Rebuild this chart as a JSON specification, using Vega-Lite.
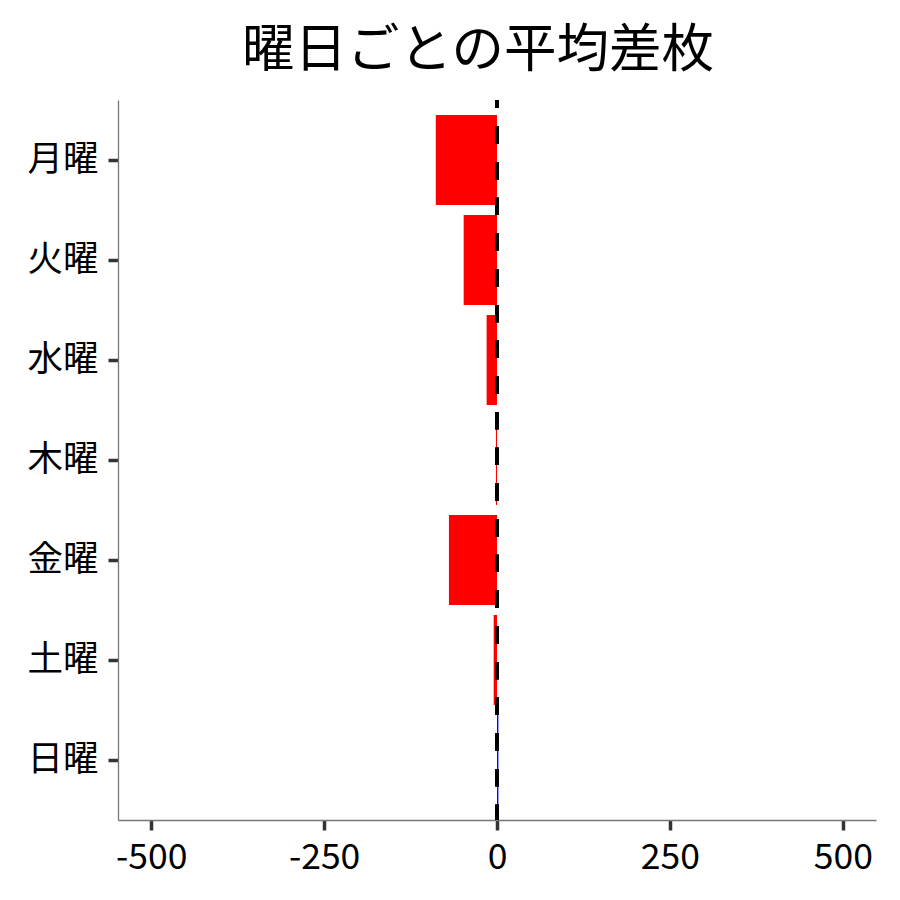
{
  "$schema": "https://vega.github.io/schema/vega-lite/v6.json",
  "autosize": "none",
  "width": 758,
  "height": 720,
  "padding": {"left": 118, "top": 100, "right": 24, "bottom": 80},
  "background": "white",
  "config": {
    "view": {"stroke": null},
    "font": "Noto Sans CJK JP",
    "axis": {
      "grid": false,
      "domainColor": "#777777",
      "domainWidth": 1.3,
      "tickColor": "#333333",
      "tickWidth": 3.5,
      "tickSize": 10,
      "labelFont": "Noto Sans CJK JP",
      "labelFontSize": 35.5,
      "labelColor": "#000000",
      "labelPadding": 10,
      "title": null
    }
  },
  "title": {
    "text": "曜日ごとの平均差枚",
    "font": "Noto Sans CJK JP",
    "fontSize": 52.5,
    "fontWeight": "normal",
    "color": "#000000",
    "anchor": "middle",
    "baseline": "alphabetic",
    "offset": -21,
    "dx": -19
  },
  "data": {
    "values": [
      {"曜日": "月曜", "平均差枚": -88.5},
      {"曜日": "火曜", "平均差枚": -48.2},
      {"曜日": "水曜", "平均差枚": -15.0},
      {"曜日": "木曜", "平均差枚": -1.5},
      {"曜日": "金曜", "平均差枚": -69.5},
      {"曜日": "土曜", "平均差枚": -4.8},
      {"曜日": "日曜", "平均差枚": 2}
    ]
  },
  "layer": [
    {
      "mark": {"type": "bar"},
      "encoding": {
        "y": {
          "field": "曜日",
          "type": "nominal",
          "sort": ["月曜", "火曜", "水曜", "木曜", "金曜", "土曜", "日曜"],
          "scale": {"paddingInner": 0.1, "paddingOuter": 0.15},
          "axis": {"labelAngle": 0, "tickWidth": 3.5, "tickColor": "#333333"}
        },
        "x": {
          "field": "平均差枚",
          "type": "quantitative",
          "scale": {"domain": [-548, 548], "nice": false, "zero": false},
          "axis": {"values": [-500, -250, 0, 250, 500], "labelFlush": false, "labelOverlap": false, "labelExpr": "'' + datum.value", "tickWidth": 3.5, "tickColor": "#333333"}
        },
        "color": {
          "condition": {"test": "datum['平均差枚'] < 0", "value": "#ff0000"},
          "value": "#0000ff"
        }
      }
    },
    {
      "mark": {"type": "rule", "color": "#000000", "strokeWidth": 3.5, "strokeDash": [17.3, 18.4], "strokeDashOffset": 9.3},
      "encoding": {"x": {"datum": 0}}
    }
  ]
}
